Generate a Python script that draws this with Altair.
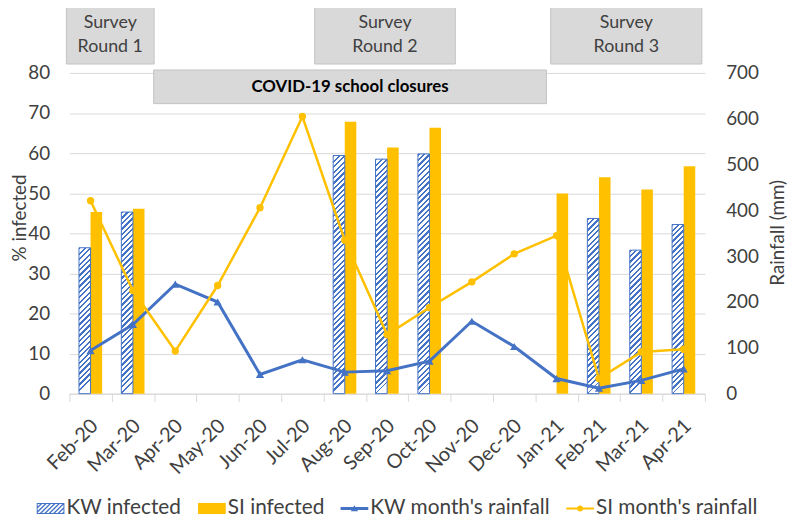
import altair as alt
import pandas as pd

# ---------------- data ----------------
months = ["Feb-20", "Mar-20", "Apr-20", "May-20", "Jun-20", "Jul-20", "Aug-20",
          "Sep-20", "Oct-20", "Nov-20", "Dec-20", "Jan-21", "Feb-21", "Mar-21", "Apr-21"]
kw_infected = [36.4, 45.3, None, None, None, None, 59.4, 58.5, 59.8, None, None, None, 43.7, 35.8, 42.2]
si_infected = [45.3, 46.1, None, None, None, None, 67.8, 61.4, 66.3, None, None, 49.9, 54.0, 50.9, 56.7]
kw_rainfall = [94, 151, 239, 200, 42, 74, 47, 50, 71, 158, 103, 33, 12, 29, 54]
si_rainfall = [421, 225, 93, 236, 406, 605, 335, 129, 188, 244, 305, 345, 33, 91, 97]

series_labels = ["KW infected", "SI infected", "KW month's rainfall", "SI month's rainfall"]

survey_labels = ["Survey\nRound 1", "Survey\nRound 2", "Survey\nRound 3"]
survey_start = [-0.07, 5.79, 11.36]
survey_end = [2.0, 9.11, 14.93]
closure_labels = ["COVID-19 school closures"]
closure_start = [1.99]
closure_end = [11.26]

# ---------------- styling ----------------
W, H = 642, 324
BLUE = "#4472C4"
GOLD = "#FFC000"
TEXT = "#404040"
GRID = "#D9D9D9"
FONT = "Lato"
Y_MAX = 80
OFFSET_PAD = 0.83
BAR_W = (W / len(months)) / (2 + 2 * OFFSET_PAD)

# ---------------- tables ----------------
bar_rows = []
for m, k, s in zip(months, kw_infected, si_infected):
    if k is not None:
        bar_rows.append({"month": m, "series": "KW infected", "value": k})
    if s is not None:
        bar_rows.append({"month": m, "series": "SI infected", "value": s})
bars_df = pd.DataFrame(bar_rows)

rain_df = pd.DataFrame(
    [{"month": m, "series": "KW month's rainfall", "rain": r} for m, r in zip(months, kw_rainfall)]
    + [{"month": m, "series": "SI month's rainfall", "rain": r} for m, r in zip(months, si_rainfall)]
)

survey_df = pd.DataFrame({"label": survey_labels, "start": survey_start, "end": survey_end})
survey_df["mid"] = (survey_df["start"] + survey_df["end"]) / 2
closure_df = pd.DataFrame({"label": closure_labels, "start": closure_start, "end": closure_end})
closure_df["mid"] = (closure_df["start"] + closure_df["end"]) / 2

legend_df = pd.DataFrame({"series": series_labels})


# ---------------- hatch helpers (style only) ----------------
def hatch_gradient(value, period=5.5, ink=2.3):
    h = value / Y_MAX * H
    w = BAR_W
    T = h + w * w / h
    stops = []
    k = 0
    while k * period < T:
        a = k * period / T
        b = min((k * period + ink) / T, 1.0)
        c = min((k + 1) * period / T, 1.0)
        stops += [(a, BLUE), (b, BLUE), (b, "#FFFFFF"), (c, "#FFFFFF")]
        k += 1
    return {"gradient": "linear", "x1": 0, "y1": 0, "x2": w / h, "y2": 1,
            "stops": [{"offset": round(o, 5), "color": col} for o, col in stops]}


def clip_half(poly, a, b, c):
    out = []
    n = len(poly)
    for i in range(n):
        p, q = poly[i], poly[(i + 1) % n]
        fp = a * p[0] + b * p[1] - c
        fq = a * q[0] + b * q[1] - c
        if fp <= 0:
            out.append(p)
        if fp * fq < 0:
            t = fp / (fp - fq)
            out.append((p[0] + t * (q[0] - p[0]), p[1] + t * (q[1] - p[1])))
    return out


def poly_path(poly):
    return "M" + " L".join(f"{x:.3f},{y:.3f}" for x, y in poly) + " Z"


def hatch_symbol():
    x0, x1, y0, y1, t = -1.0, 1.0, -0.4, 0.4, 0.07
    parts = [poly_path([(x0, y0), (x1, y0), (x1, y1), (x0, y1)]),
             poly_path([(x0 + t, y0 + t), (x0 + t, y1 - t), (x1 - t, y1 - t), (x1 - t, y0 + t)])]
    period, width = 0.32, 0.14
    c = x0 + y0
    while c < x1 + y1:
        rect = [(x0, y0), (x1, y0), (x1, y1), (x0, y1)]
        p = clip_half(rect, -1, -1, -c)
        p = clip_half(p, 1, 1, c + width)
        if len(p) >= 3:
            parts.append(poly_path(p))
        c += period
    return " ".join(parts)


rect_symbol = "M-1,-0.4 L1,-0.4 L1,0.4 L-1,0.4 Z"
tri_symbol = "M-1,-0.1 L1,-0.1 L1,0.1 L-1,0.1 Z M-0.26,0.2 L0,-0.24 L0.26,0.2 Z"
circ_symbol = ("M-1,-0.08 L1,-0.08 L1,0.08 L-1,0.08 Z "
               "M-0.22,0 A0.22,0.22 0 1,1 0.22,0 A0.22,0.22 0 1,1 -0.22,0 Z")

# ---------------- encodings (same axis objects in every sibling layer) ----------------
x_scale = alt.Scale(domain=months, paddingInner=0, paddingOuter=0)
x_axis = alt.Axis(title=None, labelAngle=315, labelAlign="right", labelBaseline="middle",
                  labelFontSize=20, labelPadding=21, labelOffset=4, tickBand="extent",
                  tickSize=8, tickColor=GRID, domainColor=GRID, grid=False)
x_enc = alt.X("month:N", sort=months, scale=x_scale, axis=x_axis)
x_off = alt.XOffset("series:N", scale=alt.Scale(domain=["KW infected", "SI infected"],
                                                 paddingInner=0, paddingOuter=OFFSET_PAD))

y_scale = alt.Scale(domain=[0, Y_MAX], nice=False)
y_axis = alt.Axis(title="% infected", values=list(range(0, 81, 10)), grid=True, gridColor=GRID,
                  domain=False, ticks=False, labelPadding=20, labelFontSize=19,
                  titleFontSize=19, titleX=-40, titleY=146, titleAngle=270, titleBaseline="bottom")
y_enc = alt.Y("value:Q", scale=y_scale, axis=y_axis)

r_scale = alt.Scale(domain=[0, 700], nice=False)
r_axis = alt.Axis(orient="right", title="Rainfall (mm)", values=list(range(0, 701, 100)),
                  grid=False, domain=False, ticks=False, labelPadding=21, labelFontSize=19,
                  titleFontSize=19, titleX=83, titleY=161, titleAngle=270, titleBaseline="bottom")
r_enc = alt.Y("rain:Q", scale=r_scale, axis=r_axis)

# ---------------- bars ----------------
si_bar = alt.Chart(bars_df).transform_filter(alt.datum.series == "SI infected").mark_bar(
    fill=GOLD, opacity=1).encode(x=x_enc, xOffset=x_off, y=y_enc)

kw_layers = []
for m, k in zip(months, kw_infected):
    if k is None:
        continue
    kw_layers.append(
        alt.Chart(bars_df)
        .transform_filter((alt.datum.series == "KW infected") & (alt.datum.month == m))
        .mark_bar(fill=hatch_gradient(k), stroke=BLUE, strokeWidth=1, opacity=1)
        .encode(x=x_enc, xOffset=x_off, y=y_enc)
    )

bars = alt.layer(si_bar, *kw_layers)

# ---------------- rainfall lines ----------------
kw_line = alt.Chart(rain_df).transform_filter(alt.datum.series == "KW month's rainfall").mark_line(
    color=BLUE, strokeWidth=3).encode(x=x_enc, y=r_enc)
kw_pts = alt.Chart(rain_df).transform_filter(alt.datum.series == "KW month's rainfall").mark_point(
    shape="triangle-up", filled=True, color=BLUE, size=70, opacity=1).encode(x=x_enc, y=r_enc)
si_line = alt.Chart(rain_df).transform_filter(alt.datum.series == "SI month's rainfall").mark_line(
    color=GOLD, strokeWidth=2.5).encode(x=x_enc, y=r_enc)
si_pts = alt.Chart(rain_df).transform_filter(alt.datum.series == "SI month's rainfall").mark_point(
    shape="circle", filled=True, color=GOLD, size=55, opacity=1).encode(x=x_enc, y=r_enc)

rain = alt.layer(kw_line, kw_pts, si_line, si_pts)

core = alt.layer(bars, rain).resolve_scale(y="independent")

# ---------------- annotation boxes ----------------
xq = alt.Scale(domain=[0, len(months)], nice=False, zero=False)
survey_rect = alt.Chart(survey_df).mark_rect(fill="#D9D9D9", stroke="#C3C3C3", strokeWidth=1).encode(
    x=alt.X("start:Q", scale=xq, axis=None), x2="end:Q", y=alt.value(-67), y2=alt.value(-9))
survey_text = alt.Chart(survey_df).mark_text(
    lineBreak="\n", fontSize=18, color=TEXT, font=FONT, lineHeight=24, baseline="middle").encode(
    x=alt.X("mid:Q", scale=xq, axis=None), y=alt.value(-50), text="label:N")
closure_rect = alt.Chart(closure_df).mark_rect(fill="#D9D9D9", stroke="#C3C3C3", strokeWidth=1).encode(
    x=alt.X("start:Q", scale=xq, axis=None), x2="end:Q", y=alt.value(-3), y2=alt.value(31))
closure_text = alt.Chart(closure_df).mark_text(
    fontSize=17, fontWeight="bold", color="#000000", font=FONT, baseline="middle").encode(
    x=alt.X("mid:Q", scale=xq, axis=None), y=alt.value(14), text="label:N")

ann = alt.layer(survey_rect, survey_text, closure_rect, closure_text)

# ---------------- legend ----------------
leg = alt.Legend(title=None, orient="none", legendX=-33, legendY=426, direction="horizontal",
                 symbolSize=784, symbolStrokeWidth=0, labelFontSize=21, labelFont=FONT,
                 labelColor=TEXT, labelOffset=2, columnPadding=16, labelLimit=400, symbolOpacity=1)
legend_layer = alt.Chart(legend_df).transform_filter("false").mark_point(
    filled=True, size=784, opacity=1).encode(
    color=alt.Color("series:N", scale=alt.Scale(domain=series_labels, range=[BLUE, GOLD, BLUE, GOLD]),
                    legend=leg),
    shape=alt.Shape("series:N", scale=alt.Scale(domain=series_labels,
                                                 range=[hatch_symbol(), rect_symbol, tri_symbol, circ_symbol]),
                    legend=leg),
)

chart = (
    alt.layer(core, ann, legend_layer)
    .resolve_scale(x="independent", y="independent")
    .properties(width=W, height=H,
                padding={"left": 62, "top": 63, "right": 85, "bottom": 124},
                autosize=alt.AutoSizeParams(type="none"))
    .configure(font=FONT)
    .configure_view(strokeWidth=0)
    .configure_axis(labelFont=FONT, titleFont=FONT, labelColor=TEXT, titleColor=TEXT,
                    titleFontWeight="normal")
)

chart.save("out.html", embed_options={"renderer": "svg", "actions": False})
